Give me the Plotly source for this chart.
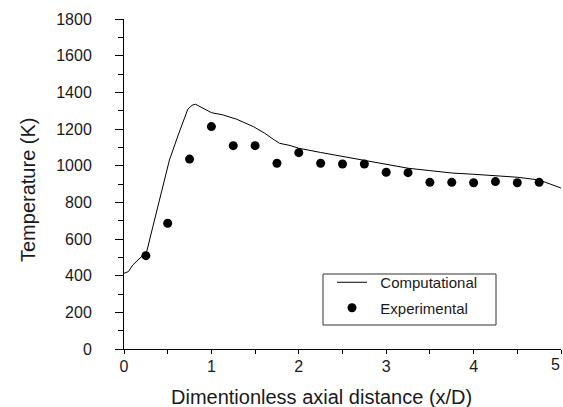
import plotly.graph_objects as go

# Computational curve (x/D, Temperature K)
comp_x = [0, 0.05, 0.1, 0.18, 0.26, 0.33, 0.43, 0.52, 0.62, 0.68, 0.73, 0.78, 0.82,
          0.87, 0.95, 1.0, 1.13, 1.29, 1.48, 1.61, 1.72, 1.78, 1.9, 2.0, 2.25, 2.5,
          2.75, 3.0, 3.25, 3.5, 3.75, 4.0, 4.25, 4.5, 4.75, 4.85, 5.0]
comp_y = [413, 422, 458, 495, 531, 667, 867, 1031, 1167, 1249, 1308, 1330, 1335,
          1322, 1300, 1289, 1277, 1253, 1213, 1177, 1140, 1122, 1110, 1095, 1072, 1050,
          1027, 1004, 986, 973, 960, 953, 944, 937, 922, 905, 878]

# Experimental points
exp_x = [0.25, 0.5, 0.75, 1.0, 1.25, 1.5, 1.75, 2.0, 2.25, 2.5, 2.75, 3.0, 3.25,
         3.5, 3.75, 4.0, 4.25, 4.5, 4.75]
exp_y = [509, 686, 1036, 1213, 1109, 1109, 1013, 1071, 1013, 1009, 1009, 964, 962,
         909, 909, 907, 913, 907, 909]

x_ticks = [0, 1, 2, 3, 4]
x_last_tick = 5
y_ticks = [0, 200, 400, 600, 800, 1000, 1200, 1400, 1600, 1800]

FONT = "Liberation Sans, Arial, sans-serif"
TXT = "#1a1a1a"

W, H = 563, 407
ML, MR, MT, MB = 124, 2, 19, 58
PW, PH = W - ML - MR, H - MT - MB


def px_x(p):
    return (p - ML) / PW


def px_y(p):
    return (H - MB - p) / PH


NB = "\u00a0\u00a0"

fig = go.Figure()
fig.add_trace(go.Scatter(x=comp_x, y=comp_y, mode="lines", name=NB + "Computational",
                         legendgroup="a",
                         line=dict(color="black", width=1)))
fig.add_trace(go.Scatter(x=exp_x, y=exp_y, mode="markers", name=NB + "Experimental",
                         legendgroup="b",
                         marker=dict(color="black", size=9)))

fig.update_layout(
    width=W, height=H,
    margin=dict(l=ML, r=MR, t=MT, b=MB),
    paper_bgcolor="white", plot_bgcolor="white",
    font=dict(family=FONT, color=TXT, size=16),
    showlegend=True,
    legend=dict(x=px_x(332), y=px_y(266), xanchor="left", yanchor="top",
                borderwidth=0, bgcolor="rgba(0,0,0,0)",
                font=dict(size=15, family=FONT, color=TXT),
                tracegroupgap=3),
    xaxis=dict(range=[0, 5], tickvals=x_ticks + [x_last_tick],
               ticktext=[str(v) for v in x_ticks] + [""],
               ticks="outside", ticklen=4,
               tickcolor="black", showline=True, linecolor="black", linewidth=1,
               showgrid=False, zeroline=False, tickfont=dict(size=16),
               ticklabelstandoff=-1,
               minor=dict(dtick=0.5, ticks="outside", ticklen=4, tickcolor="black")),
    yaxis=dict(range=[0, 1800], tickvals=y_ticks, ticks="outside", ticklen=8,
               tickcolor="black", showline=True, linecolor="black", linewidth=1,
               showgrid=False, zeroline=False, tickfont=dict(size=16),
               ticklabelstandoff=20,
               minor=dict(dtick=100, ticks="outside", ticklen=5, tickcolor="black")),
    shapes=[
        dict(type="rect", xref="paper", yref="paper",
             x0=px_x(323), x1=px_x(496), y0=px_y(325), y1=px_y(274),
             line=dict(color="#333", width=1), fillcolor="rgba(0,0,0,0)"),
    ],
    annotations=[
        dict(text=str(x_last_tick), xref="x", yref="paper", x=x_last_tick,
             y=px_y(364), xanchor="right", yanchor="middle", showarrow=False,
             xshift=1, font=dict(size=16, family=FONT, color=TXT)),
        dict(text="Dimentionless axial distance (x/D)", xref="paper", yref="paper",
             x=px_x(321), y=px_y(397), xanchor="center", yanchor="middle",
             showarrow=False, font=dict(size=20, family=FONT, color=TXT)),
        dict(text="Temperature (K)", xref="paper", yref="paper",
             x=px_x(28), y=px_y(190), xanchor="center", yanchor="middle",
             showarrow=False, textangle=-90,
             font=dict(size=20, family=FONT, color=TXT)),
    ],
)

fig.write_html("out.html", config={"displayModeBar": False},
               post_script="document.body.style.margin='0';")
